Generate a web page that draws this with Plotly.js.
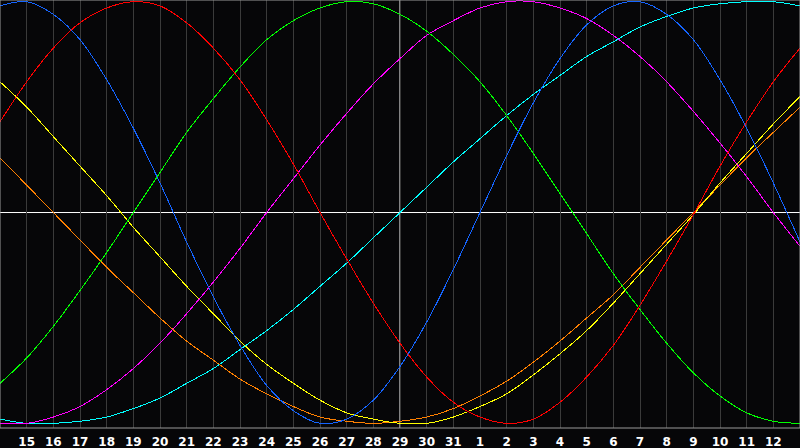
<!DOCTYPE html>
<html>
<head>
<meta charset="utf-8">
<script src="https://cdn.plot.ly/plotly-3.0.1.min.js"></script>
<style>
  html, body { margin: 0; padding: 0; background: #060608; }
  #chart { width: 800px; height: 448px; }
  /* the original draws hard 1px pixel lines */
  #chart path.js-line { shape-rendering: crispEdges; }
</style>
</head>
<body>
<div id="chart"></div>
<script>
// day of month for each column, 14th .. 13th of the next month
const dayLabels = ['14', '15', '16', '17', '18', '19', '20', '21', '22', '23', '24', '25', '26', '27', '28',
    '29', '30', '31', '1', '2', '3', '4', '5', '6', '7', '8', '9', '10', '11', '12', '13'];
const todayLabel = '29';

// cycle values (-1 .. 1), one per day
const physical = [0.98, 1.00, 0.94, 0.82, 0.63, 0.40, 0.14, -0.14, -0.40, -0.63, -0.82, -0.94, -1.00, -0.98, -0.89,
    -0.73, -0.52, -0.27, 0.00, 0.27, 0.52, 0.73, 0.89, 0.98, 1.00, 0.94, 0.82, 0.63, 0.40, 0.14, -0.14];
const emotional = [0.43, 0.62, 0.78, 0.90, 0.97, 1.00, 0.98, 0.90, 0.78, 0.63, 0.44, 0.23, 0.00, -0.22, -0.43,
    -0.62, -0.78, -0.90, -0.97, -1.00, -0.98, -0.90, -0.78, -0.63, -0.44, -0.23, -0.01, 0.22, 0.43, 0.62, 0.78];
const intellectual = [-0.81, -0.69, -0.54, -0.37, -0.19, 0.00, 0.19, 0.38, 0.54, 0.69, 0.82, 0.91, 0.97, 1.00, 0.99,
    0.94, 0.86, 0.75, 0.62, 0.46, 0.28, 0.09, -0.10, -0.29, -0.46, -0.62, -0.76, -0.87, -0.95, -0.99, -1.00];
const intuitive = [-1.00, -1.00, -0.97, -0.92, -0.84, -0.74, -0.62, -0.48, -0.33, -0.17, 0.00, 0.16, 0.32, 0.47, 0.61,
    0.73, 0.84, 0.91, 0.97, 1.00, 1.00, 0.97, 0.92, 0.84, 0.74, 0.62, 0.48, 0.33, 0.17, 0.00, -0.16];
const aesthetic = [0.62, 0.50, 0.36, 0.22, 0.08, -0.07, -0.21, -0.35, -0.48, -0.61, -0.72, -0.81, -0.89, -0.95, -0.98,
    -1.00, -1.00, -0.97, -0.92, -0.86, -0.77, -0.67, -0.56, -0.43, -0.29, -0.15, -0.01, 0.14, 0.28, 0.42, 0.55];
const awareness = [0.26, 0.13, 0.00, -0.13, -0.26, -0.38, -0.50, -0.61, -0.70, -0.79, -0.86, -0.92, -0.97, -0.99, -1.00,
    -0.99, -0.97, -0.93, -0.87, -0.80, -0.71, -0.61, -0.50, -0.39, -0.26, -0.13, 0.00, 0.13, 0.26, 0.38, 0.50];
const spiritual = [-0.98, -1.00, -1.00, -0.99, -0.97, -0.93, -0.88, -0.81, -0.74, -0.65, -0.56, -0.46, -0.35, -0.24, -0.12,
    0.00, 0.12, 0.24, 0.35, 0.46, 0.56, 0.65, 0.74, 0.81, 0.88, 0.93, 0.97, 0.99, 1.00, 1.00, 0.98];

const seriesList = [
    { name: 'Spiritual', y: spiritual, color: '#00ffff' },
    { name: 'Awareness', y: awareness, color: '#ff8000' },
    { name: 'Aesthetic', y: aesthetic, color: '#ffff00' },
    { name: 'Intuitive', y: intuitive, color: '#ff00ff' },
    { name: 'Intellectual', y: intellectual, color: '#00ff00' },
    { name: 'Emotional', y: emotional, color: '#ff0000' },
    { name: 'Physical', y: physical, color: '#1464ff' }
];

const dayIdx = dayLabels.map((d, i) => i);
// only the inner days carry a label
const tickVals = dayIdx.slice(1, -1);
const tickText = dayLabels.slice(1, -1);
const todayIdx = dayLabels.indexOf(todayLabel, 1);

const data = seriesList.map(s => ({
    x: dayIdx, y: s.y, name: s.name,
    type: 'scatter', mode: 'lines',
    line: { color: s.color, width: 1, shape: 'spline' },
    hoverinfo: 'skip'
}));

const layout = {
    width: 800, height: 448,
    margin: { l: 0, r: 0, t: 0, b: 20 },
    paper_bgcolor: '#060608',
    plot_bgcolor: '#060608',
    showlegend: false,
    xaxis: {
        range: [0, dayLabels.length - 1],
        tickvals: tickVals, ticktext: tickText,
        showgrid: true, gridcolor: '#3a3a3a', gridwidth: 1,
        zeroline: false, showline: false,
        // invisible ticks push the labels down a little
        ticks: 'outside', ticklen: 3, tickcolor: 'rgba(0,0,0,0)',
        tickfont: { family: 'DejaVu Sans', size: 12, color: '#ffffff', weight: 'bold' },
        fixedrange: true
    },
    yaxis: {
        range: [-1.022, 1.008],
        showgrid: false, showticklabels: false,
        zeroline: false, showline: false, ticks: '',
        fixedrange: true
    },
    shapes: [
        { type: 'line', xref: 'paper', yref: 'y', x0: 0, x1: 1, y0: 0, y1: 0,
          line: { color: '#ffffff', width: 1 }, layer: 'below' },
        { type: 'line', xref: 'x', yref: 'paper', x0: todayIdx, x1: todayIdx, y0: 0, y1: 1,
          line: { color: '#ffffff', width: 1 }, layer: 'below' },
        { type: 'rect', xref: 'paper', yref: 'paper', x0: 0, x1: 1, y0: 0, y1: 1,
          line: { color: '#999999', width: 1 }, layer: 'above' }
    ]
};

Plotly.newPlot('chart', data, layout, { staticPlot: true });
</script>
</body>
</html>
